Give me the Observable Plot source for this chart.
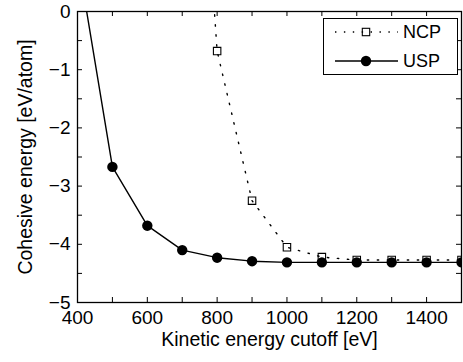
<!DOCTYPE html>
<html>
<head>
<meta charset="utf-8">
<script src="https://cdn.jsdelivr.net/npm/d3@7"></script>
<script src="https://cdn.jsdelivr.net/npm/@observablehq/plot@0.6"></script>
<style>
  html, body { margin: 0; padding: 0; background: #fff; }
  svg { display: block; }
</style>
</head>
<body>
<div id="chart"></div>
<script>
// Data
const cutoffs = [400, 500, 600, 700, 800, 900, 1000, 1100, 1200, 1300, 1400, 1500];
const uspEnergy = [0.95, -2.67, -3.68, -4.10, -4.23, -4.29, -4.31, -4.31, -4.31, -4.31, -4.31, -4.31];
const ncpCutoffs = [700, 800, 900, 1000, 1100, 1200, 1300, 1400, 1500];
const ncpEnergy = [8.0, -0.68, -3.25, -4.05, -4.22, -4.27, -4.27, -4.27, -4.27];
const xTicks = [400, 500, 600, 700, 800, 900, 1000, 1100, 1200, 1300, 1400, 1500];
const xTickLabels = [400, 600, 800, 1000, 1200, 1400];
const yTicks = [-5, -4.5, -4, -3.5, -3, -2.5, -2, -1.5, -1, -0.5, 0];
const yTickLabels = [-5, -4, -3, -2, -1, 0];
const seriesNames = ["NCP", "USP"];
const xTitle = "Kinetic energy cutoff [eV]";
const yTitle = "Cohesive energy [eV/atom]";

const usp = cutoffs.map((x, i) => ({x, y: uspEnergy[i]}));
const ncp = ncpCutoffs.map((x, i) => ({x, y: ncpEnergy[i]}));

const W = 463, H = 362;
const mL = 77, mR = 2, mT = 11, mB = 60;
const fw = W - mL - mR, fh = H - mT - mB;
const tick = 5;
const font = "'Liberation Sans', Arial, Helvetica, sans-serif";
const minus = d => d === 0 ? "0" : (d < 0 ? "\u2212" + Math.abs(d) : String(d));

const plot = Plot.plot({
  width: W, height: H,
  marginLeft: mL, marginRight: mR, marginTop: mT, marginBottom: mB,
  style: {fontFamily: font, fontSize: "19px", color: "black", background: "white"},
  x: {domain: [400, 1500]},
  y: {domain: [-5, 0]},
  marks: [
    // inward ticks on all four sides
    Plot.ruleX(xTicks, {x: d => d, insetTop: fh - tick, stroke: "black", strokeWidth: 1}),
    Plot.ruleX(xTicks, {x: d => d, insetBottom: fh - tick, stroke: "black", strokeWidth: 1}),
    Plot.ruleY(yTicks, {y: d => d, insetRight: fw - tick, stroke: "black", strokeWidth: 1}),
    Plot.ruleY(yTicks, {y: d => d, insetLeft: fw - tick, stroke: "black", strokeWidth: 1}),
    Plot.axisX({ticks: xTickLabels, tickSize: 0, tickPadding: 8, tickFormat: d => String(d), label: null, fontSize: 19}),
    Plot.axisY({ticks: yTickLabels, tickSize: 0, tickPadding: 7, tickFormat: minus, label: null, fontSize: 19}),
    Plot.text([xTitle], {text: d => d, frameAnchor: "bottom", textAnchor: "middle", dy: 43, fontSize: 19.5}),
    Plot.text([yTitle], {text: d => d, frameAnchor: "left", textAnchor: "middle", rotate: -90, dx: -52, fontSize: 19.5}),
    // series
    Plot.line(usp, {x: "x", y: "y", stroke: "black", strokeWidth: 1.4, clip: true}),
    Plot.dot(usp, {x: "x", y: "y", r: 5.2, fill: "black", stroke: "none", clip: true}),
    Plot.line(ncp, {x: "x", y: "y", stroke: "black", strokeWidth: 1.4, strokeDasharray: "1.4,8.6", clip: true}),
    Plot.dot(ncp, {x: "x", y: "y", symbol: "square", r: 4.2, fill: "none", stroke: "black", strokeWidth: 1.1, clip: true}),
    Plot.frame({stroke: "black", strokeWidth: 1.3})
  ]
});

// Legend box (top right, inside the frame)
const svg = d3.select(plot);
const lg = svg.append("g").attr("font-family", font).attr("font-size", 18).attr("text-anchor", "start");
lg.append("rect").attr("x", 323.5).attr("y", 18.5).attr("width", 134).attr("height", 56)
  .attr("fill", "white").attr("stroke", "black").attr("stroke-width", 1);
const rows = [32, 61];
// NCP
lg.append("line").attr("x1", 335).attr("x2", 398).attr("y1", rows[0]).attr("y2", rows[0])
  .attr("stroke", "black").attr("stroke-width", 1.4).attr("stroke-dasharray", "1.4,7.5");
lg.append("rect").attr("x", 366 - 3.7).attr("y", rows[0] - 3.7).attr("width", 7.4).attr("height", 7.4)
  .attr("fill", "none").attr("stroke", "black").attr("stroke-width", 1.1);
lg.append("text").attr("x", 403).attr("y", rows[0]).attr("dy", "0.35em").text(seriesNames[0]);
// USP
lg.append("line").attr("x1", 335).attr("x2", 398).attr("y1", rows[1]).attr("y2", rows[1])
  .attr("stroke", "black").attr("stroke-width", 1.4);
lg.append("circle").attr("cx", 366).attr("cy", rows[1]).attr("r", 5.2).attr("fill", "black");
lg.append("text").attr("x", 403).attr("y", rows[1]).attr("dy", "0.35em").text(seriesNames[1]);

document.getElementById("chart").appendChild(plot);
</script>
</body>
</html>
